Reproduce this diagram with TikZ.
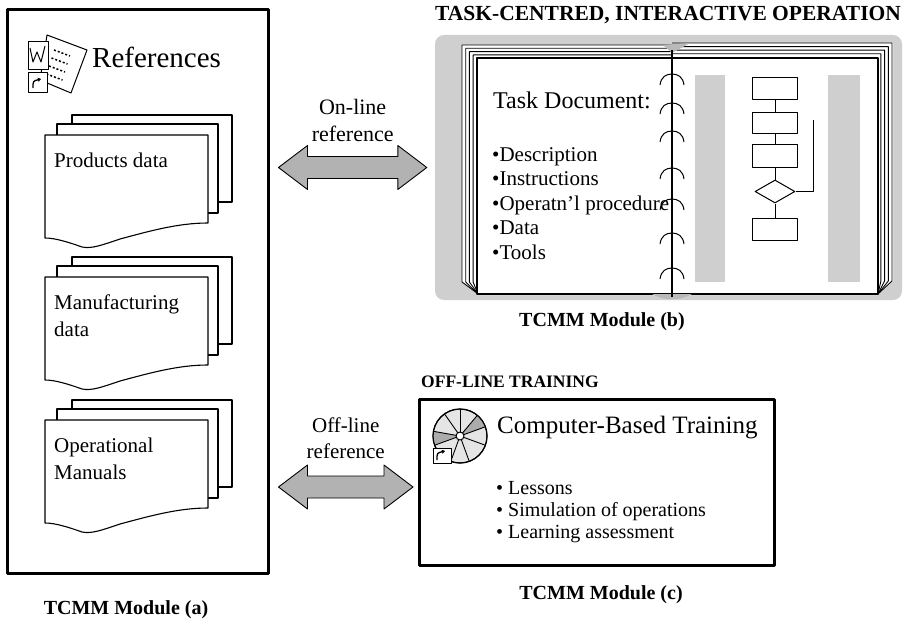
\documentclass[tikz,border=0pt]{standalone}
\usepackage{fontspec}
\setmainfont{Liberation Serif}
\usetikzlibrary{arrows.meta,positioning,calc,shapes.geometric}

% outlined double-headed block arrow between two points
\newcommand{\blockarrow}[2]{%
  \draw[fatarrow] (#1) -- ($(#1)+(29,-22)$) -- ($(#1)+(29,-11)$) -- ($(#2)+(-29,-11)$)
    -- ($(#2)+(-29,-22)$) -- (#2) -- ($(#2)+(-29,22)$) -- ($(#2)+(-29,11)$)
    -- ($(#1)+(29,11)$) -- ($(#1)+(29,22)$) -- cycle;}

\begin{document}
\begin{tikzpicture}[x=1pt,y=-1pt,line join=round,
 modbox/.style={draw,line width=3pt,inner sep=0pt},
 caption/.style={font=\fontsize{20}{24}\selectfont\bfseries},
 heading/.style={anchor=west,inner sep=0pt},
 doctext/.style={font=\fontsize{21}{27}\selectfont,align=left,anchor=north west,inner sep=0pt},
 sheet/.style={line width=1.1pt},
 fatarrow/.style={draw,line width=0.9pt,fill=gray!60},
 arrowtext/.style={align=center,anchor=south,inner sep=0pt},
 leaf/.style={line width=0.9pt},
 stipple/.style={fill=gray!38},
 flowbox/.style={draw,line width=1pt,minimum width=45pt,minimum height=22pt,inner sep=0pt},
 flowline/.style={line width=1pt},
 hook/.style={line width=1pt},
 listtext/.style={font=\fontsize{20}{22}\selectfont,align=left,anchor=north west,inner sep=0pt}]
\useasboundingbox (0,0) rectangle (918,626);

% module (a): reference documents
\node[modbox,minimum width=261pt,minimum height=563pt] (boxa) at (137.5,291.5) {};
\draw[line width=1pt,fill=white] (47,35) -- (87,50) -- (71,93) -- (40,80) -- cycle;
\foreach \k in {0,1,2,3}
  \draw[line width=1.5pt,dash pattern=on 2pt off 2pt] ($(54,50)+(\k*-2.5,\k*8)$) -- ++(16,6);
\draw[line width=1pt,fill=white] (28,42) rectangle (48,70);
\draw[line width=1pt] (30,48) -- (33,62) -- (37,52) -- (41,62) -- (45,46);
\draw[line width=1pt,fill=white] (28,73) rectangle (47,92);
\draw[line width=1.3pt,-{Triangle[length=3pt,width=4pt]}] (33,88) .. controls (33,81) .. (41,79);
\node[font=\fontsize{29}{34}\selectfont,anchor=west,inner sep=0pt] (refs) at (92,57) {References};

\foreach \ty/\nm/\txt in {135/prod/{Products data},277/manu/{Manufacturing\\data},420/oper/{Operational\\Manuals}}{
  \draw[sheet] (72,\ty-11) |- (232,\ty-20) |- (218,\ty+67);
  \draw[sheet] (57,\ty) |- (218,\ty-11) |- (208,\ty+78);
  \draw[sheet,fill=white] (45,\ty) -- (208,\ty) -- (208,\ty+88)
    .. controls (178,\ty+88) and (150,\ty+96) .. (120,\ty+104)
    .. controls (102,\ty+110) and (92,\ty+114) .. (82,\ty+112)
    .. controls (68,\ty+107) and (55,\ty+103) .. (45,\ty+103) -- cycle;
  \node[doctext] (\nm) at (54,\ty+18) {\txt};
}
\node[caption] (capa) at (126,610) {TCMM Module (a)};

% module (b): the task book
\node[heading,font=\fontsize{21.5}{25}\selectfont\bfseries] (headb) at (435,15) {TASK-CENTRED, INTERACTIVE OPERATION};
\node[stipple,rounded corners=9pt,minimum width=467pt,minimum height=265pt,inner sep=0pt] (book) at (668.5,167.5) {};
\fill[white] (462,45) -- (663,45) -- (672,52) -- (690,43) -- (893,43) -- (893,281) -- (878,295) -- (478,295) -- (462,282) -- cycle;
\foreach \i in {0,...,3}{
  \draw[leaf] (672,45+3.3*\i) -- (462+3.7*\i,45+3.3*\i) -- (462+3.7*\i,282) -- (478,294);
  \draw[leaf] (672,43+3.6*\i) -- (892-3.7*\i,43+3.6*\i) -- (892-3.7*\i,281) -- (878,294);
}
\draw[line width=1.3pt] (477,58) rectangle (878,294);
\fill[gray!55] (663,45) -- (672,53) -- (690,43) -- cycle;
\fill[gray!55] (652,294) .. controls (664,301) and (680,301) .. (692,294) -- cycle;
\draw[line width=1.4pt] (672,50) -- (672,297);
\foreach \hy in {78,107,135,172,203,237,272}
  \draw[hook] (660,\hy+7) .. controls (661,\hy-1) and (666,\hy-4) .. (672,\hy-4)
    .. controls (678,\hy-4) and (683,\hy-1) .. (684,\hy+7);

\node[font=\fontsize{24}{28}\selectfont,anchor=west,inner sep=0pt] (taskdoc) at (493,100) {Task Document:};
\node[doctext,font=\fontsize{21}{24.5}\selectfont] (tasklist) at (492,147)
  {•Description\\•Instructions\\•Operatn'l procedure\\•Data\\•Tools};

\fill[gray!38] (695,75) rectangle (725,282);
\fill[gray!38] (828,75) rectangle (860,282);
\node[flowbox] (f1) at (775,88) {};
\node[flowbox,minimum height=21pt] (f2) at (775,122.5) {};
\node[flowbox,minimum height=23pt] (f3) at (775,155.5) {};
\node[draw,diamond,line width=1pt,minimum width=40pt,minimum height=23pt,inner sep=0pt] (fd) at (775,191.5) {};
\node[flowbox] (f4) at (775,229) {};
\coordinate (fb) at (813,120);
\draw[flowline] (f1) -- (f2) (f2) -- (f3) (f3) -- (fd) (fd) -- (f4);
\draw[flowline] (fd.east) -| (fb);
\node[caption] (capb) at (602,322) {TCMM Module (b)};

% module (c): computer-based training
\node[heading,font=\fontsize{17.5}{21}\selectfont\bfseries] (headc) at (421,382) {OFF-LINE TRAINING};
\node[modbox,minimum width=355pt,minimum height=166pt] (cbox) at (596.5,482) {};
\draw[line width=1pt,fill=gray!20] (460,436) circle (27);
\fill[gray!65] (460,436) -- ++(-20:27) arc[start angle=-20,end angle=-50,radius=27] -- cycle;
\fill[gray!65] (460,436) -- ++(160:27) arc[start angle=160,end angle=190,radius=27] -- cycle;
\foreach \a in {-90,-50,-20,20,70,110,160,190,235}
  \draw[line width=0.9pt] (460,436) -- ++(\a:27);
\draw[line width=1.2pt] (460,436) circle (27);
\draw[line width=1pt,fill=white] (460,436) circle (4);
\draw[line width=1pt,fill=white] (433,448) rectangle (451,463);
\draw[line width=1.3pt,-{Triangle[length=3pt,width=4pt]}] (437,460) .. controls (437,453) .. (445,451);
\node[font=\fontsize{25}{30}\selectfont,anchor=west,inner sep=0pt] (cbt) at (497,428) {Computer-Based Training};
\node[listtext] (cbtlist) at (496,481) {• Lessons\\• Simulation of operations\\• Learning assessment};
\node[caption] (capc) at (601,595) {TCMM Module (c)};

% reference links
\coordinate (onl) at ($(boxa.east |- book.west)+(9,0)$);
\coordinate (onr) at ($(book.west)+(-8,0)$);
\blockarrow{onl}{onr}
\node[arrowtext,font=\fontsize{22}{27}\selectfont] (ontext) at ($(onl)!0.5!(onr)+(0,-26)$) {On-line\\reference};
\coordinate (offl) at ($(boxa.east |- cbox.west)+(9,5)$);
\coordinate (offr) at ($(cbox.west)+(-4.5,5)$);
\blockarrow{offl}{offr}
\node[arrowtext,font=\fontsize{21}{26}\selectfont] (offtext) at ($(offl)!0.5!(offr)+(0,-28)$) {Off-line\\reference};
\end{tikzpicture}
\end{document}
